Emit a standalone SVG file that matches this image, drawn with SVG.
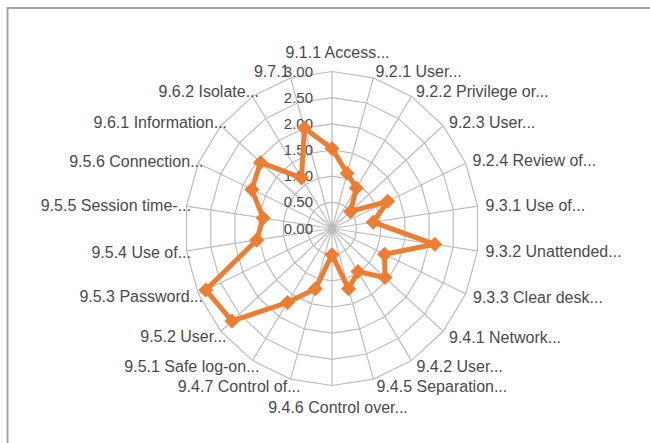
<svg xmlns="http://www.w3.org/2000/svg" xmlns:xlink="http://www.w3.org/1999/xlink" width="650" height="443" viewBox="0 0 650 443">
  <style>
    .ring { fill: none; stroke: #bdbdbd; stroke-width: 1.2; vector-effect: non-scaling-stroke; }
    .spoke { fill: none; stroke: #bdbdbd; stroke-width: 1.2; }
    .cat { font-family: "Liberation Sans", Arial, sans-serif; font-size: 16px; fill: #4a4a4a; }
    .val { font-family: "Liberation Sans", Arial, sans-serif; font-size: 15px; fill: #4a4a4a; text-anchor: end; }
    .series { fill: none; stroke: #ED7D31; stroke-width: 5; stroke-linejoin: round; }
    .mk { fill: #ED7D31; }
  </style>
  <defs>
    <polygon id="ring" class="ring" points="0,-157 41.41,-150.64 79.47,-132.08 111.10,-102.81 133.72,-65.22 145.50,-22.34 145.50,22.34 133.72,65.22 111.10,102.81 79.47,132.08 41.41,150.64 0,157 -41.41,150.64 -79.47,132.08 -111.10,102.81 -133.72,65.22 -145.50,22.34 -145.50,-22.34 -133.72,-65.22 -111.10,-102.81 -79.47,-132.08 -41.41,-150.64"/>
    <path id="dia" d="M0,-7.5 L7.5,0 L0,7.5 L-7.5,0 Z"/>
  </defs>
  <rect x="0" y="0" width="650" height="443" fill="#ffffff"/>
  <path d="M7.5,443 V8 H650" fill="none" stroke="#a6a6a6" stroke-width="2"/>

  <g id="grid">
    <use xlink:href="#ring" href="#ring" transform="translate(332,228.5) scale(0.16667)"/>
    <use xlink:href="#ring" href="#ring" transform="translate(332,228.5) scale(0.33333)"/>
    <use xlink:href="#ring" href="#ring" transform="translate(332,228.5) scale(0.5)"/>
    <use xlink:href="#ring" href="#ring" transform="translate(332,228.5) scale(0.66667)"/>
    <use xlink:href="#ring" href="#ring" transform="translate(332,228.5) scale(0.83333)"/>
    <use xlink:href="#ring" href="#ring" transform="translate(332,228.5)"/>
    <path class="spoke" transform="translate(332,228.5)" d="M0,0 L0,-157 M0,0 L41.41,-150.64 M0,0 L79.47,-132.08 M0,0 L111.10,-102.81 M0,0 L133.72,-65.22 M0,0 L145.50,-22.34 M0,0 L145.50,22.34 M0,0 L133.72,65.22 M0,0 L111.10,102.81 M0,0 L79.47,132.08 M0,0 L41.41,150.64 M0,0 L0,157 M0,0 L-41.41,150.64 M0,0 L-79.47,132.08 M0,0 L-111.10,102.81 M0,0 L-133.72,65.22 M0,0 L-145.50,22.34 M0,0 L-145.50,-22.34 M0,0 L-133.72,-65.22 M0,0 L-111.10,-102.81 M0,0 L-79.47,-132.08 M0,0 L-41.41,-150.64"/>
  </g>

  <g id="axis-values">
    <text class="val" x="313" y="233.5">0.00</text>
    <text class="val" x="313" y="207.3">0.50</text>
    <text class="val" x="313" y="181.2">1.00</text>
    <text class="val" x="313" y="155">1.50</text>
    <text class="val" x="313" y="128.8">2.00</text>
    <text class="val" x="313" y="102.7">2.50</text>
  </g>

  <g id="categories">
    <text class="cat" x="337.5" y="58" text-anchor="middle">9.1.1 Access...</text>
    <text class="cat" x="375.5" y="77">9.2.1 User...</text>
    <text class="cat" x="416" y="97">9.2.2 Privilege or...</text>
    <text class="cat" x="449" y="128">9.2.3 User...</text>
    <text class="cat" x="472.5" y="166">9.2.4 Review of...</text>
    <text class="cat" x="485.5" y="210.5">9.3.1 Use of...</text>
    <text class="cat" x="485.5" y="257">9.3.2 Unattended...</text>
    <text class="cat" x="473" y="303">9.3.3 Clear desk...</text>
    <text class="cat" x="449" y="343">9.4.1 Network...</text>
    <text class="cat" x="416.5" y="372">9.4.2 User...</text>
    <text class="cat" x="376.5" y="392">9.4.5 Separation...</text>
    <text class="cat" x="338" y="412.5" text-anchor="middle">9.4.6 Control over...</text>
    <text class="cat" x="300.5" y="392" text-anchor="end">9.4.7 Control of...</text>
    <text class="cat" x="259.5" y="372" text-anchor="end">9.5.1 Safe log-on...</text>
    <text class="cat" x="226.5" y="342" text-anchor="end">9.5.2 User...</text>
    <text class="cat" x="203" y="302" text-anchor="end">9.5.3 Password...</text>
    <text class="cat" x="191" y="257.5" text-anchor="end">9.5.4 Use of...</text>
    <text class="cat" x="191" y="211" text-anchor="end">9.5.5 Session time-...</text>
    <text class="cat" x="203.5" y="166.5" text-anchor="end">9.5.6 Connection...</text>
    <text class="cat" x="227" y="128" text-anchor="end">9.6.1 Information...</text>
    <text class="cat" x="259" y="97" text-anchor="end">9.6.2 Isolate...</text>
    <text class="cat" x="289.5" y="77" text-anchor="end">9.7.1</text>
  </g>
  <text class="val" x="313" y="76.5">3.00</text>

  <g id="series">
    <polygon class="series" points="332,148.4 347.2,173.3 356.4,188.0 350.5,211.4 387.7,201.3 373.2,222.2 434.8,244.3 384.6,254.2 385.0,277.5 358.0,271.6 348.6,288.8 332,254.7 315.4,288.8 287.5,302.5 232.0,321.0 205.9,290.0 256.8,240.0 263.1,217.9 251.8,189.4 260.5,162.4 301.5,177.9 304.4,128.1"/>
    <g class="mk">
      <use xlink:href="#dia" href="#dia" x="332" y="148.4"/>
      <use xlink:href="#dia" href="#dia" x="347.2" y="173.3"/>
      <use xlink:href="#dia" href="#dia" x="356.4" y="188.0"/>
      <use xlink:href="#dia" href="#dia" x="350.5" y="211.4"/>
      <use xlink:href="#dia" href="#dia" x="387.7" y="201.3"/>
      <use xlink:href="#dia" href="#dia" x="373.2" y="222.2"/>
      <use xlink:href="#dia" href="#dia" x="434.8" y="244.3"/>
      <use xlink:href="#dia" href="#dia" x="384.6" y="254.2"/>
      <use xlink:href="#dia" href="#dia" x="385.0" y="277.5"/>
      <use xlink:href="#dia" href="#dia" x="358.0" y="271.6"/>
      <use xlink:href="#dia" href="#dia" x="348.6" y="288.8"/>
      <use xlink:href="#dia" href="#dia" x="332" y="254.7"/>
      <use xlink:href="#dia" href="#dia" x="315.4" y="288.8"/>
      <use xlink:href="#dia" href="#dia" x="287.5" y="302.5"/>
      <use xlink:href="#dia" href="#dia" x="232.0" y="321.0"/>
      <use xlink:href="#dia" href="#dia" x="205.9" y="290.0"/>
      <use xlink:href="#dia" href="#dia" x="256.8" y="240.0"/>
      <use xlink:href="#dia" href="#dia" x="263.1" y="217.9"/>
      <use xlink:href="#dia" href="#dia" x="251.8" y="189.4"/>
      <use xlink:href="#dia" href="#dia" x="260.5" y="162.4"/>
      <use xlink:href="#dia" href="#dia" x="301.5" y="177.9"/>
      <use xlink:href="#dia" href="#dia" x="304.4" y="128.1"/>
    </g>
  </g>
</svg>
